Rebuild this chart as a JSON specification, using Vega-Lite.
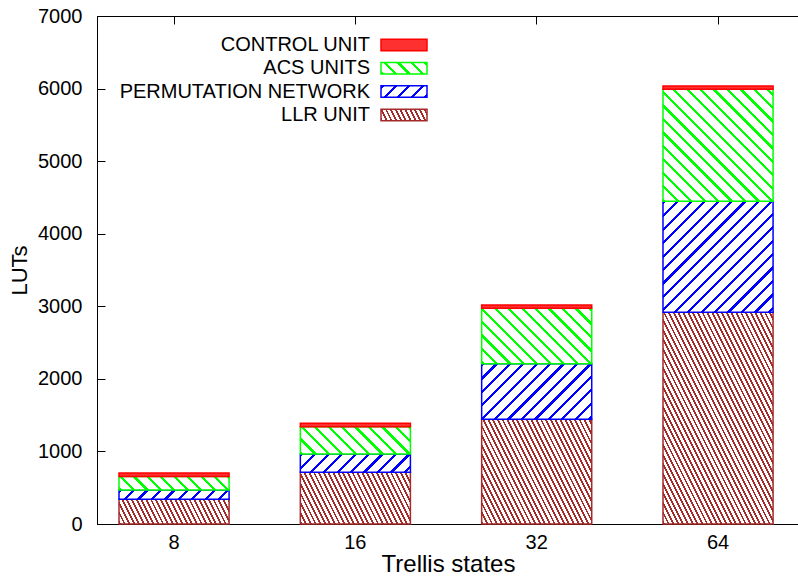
{
  "$schema": "https://vega.github.io/schema/vega-lite/v6.json",
  "autosize": "none",
  "padding": {"left": 97, "top": 16, "right": 0, "bottom": 52},
  "width": 702,
  "height": 508,
  "config": {
    "font": "Liberation Sans",
    "view": {"stroke": "#000", "strokeWidth": 1}
  },
  "params": [
    {"name": "pat", "value": {
      "LLR UNIT": {"a": 0.894, "b": -0.447, "L": 215, "stops": [
        {"offset":0,"color":"#a52a2a"},{"offset":0.008,"color":"#a52a2a"},{"offset":0.008,"color":"#fff"},{"offset":0.02,"color":"#fff"},
        {"offset":0.02,"color":"#a52a2a"},{"offset":0.028,"color":"#a52a2a"},{"offset":0.028,"color":"#fff"},{"offset":0.04,"color":"#fff"},
        {"offset":0.04,"color":"#a52a2a"},{"offset":0.048,"color":"#a52a2a"},{"offset":0.048,"color":"#fff"},{"offset":0.06,"color":"#fff"},
        {"offset":0.06,"color":"#a52a2a"},{"offset":0.068,"color":"#a52a2a"},{"offset":0.068,"color":"#fff"},{"offset":0.08,"color":"#fff"},
        {"offset":0.08,"color":"#a52a2a"},{"offset":0.088,"color":"#a52a2a"},{"offset":0.088,"color":"#fff"},{"offset":0.10,"color":"#fff"},
        {"offset":0.10,"color":"#a52a2a"},{"offset":0.108,"color":"#a52a2a"},{"offset":0.108,"color":"#fff"},{"offset":0.12,"color":"#fff"},
        {"offset":0.12,"color":"#a52a2a"},{"offset":0.128,"color":"#a52a2a"},{"offset":0.128,"color":"#fff"},{"offset":0.14,"color":"#fff"},
        {"offset":0.14,"color":"#a52a2a"},{"offset":0.148,"color":"#a52a2a"},{"offset":0.148,"color":"#fff"},{"offset":0.16,"color":"#fff"},
        {"offset":0.16,"color":"#a52a2a"},{"offset":0.168,"color":"#a52a2a"},{"offset":0.168,"color":"#fff"},{"offset":0.18,"color":"#fff"},
        {"offset":0.18,"color":"#a52a2a"},{"offset":0.188,"color":"#a52a2a"},{"offset":0.188,"color":"#fff"},{"offset":0.20,"color":"#fff"},
        {"offset":0.20,"color":"#a52a2a"},{"offset":0.208,"color":"#a52a2a"},{"offset":0.208,"color":"#fff"},{"offset":0.22,"color":"#fff"},
        {"offset":0.22,"color":"#a52a2a"},{"offset":0.228,"color":"#a52a2a"},{"offset":0.228,"color":"#fff"},{"offset":0.24,"color":"#fff"},
        {"offset":0.24,"color":"#a52a2a"},{"offset":0.248,"color":"#a52a2a"},{"offset":0.248,"color":"#fff"},{"offset":0.26,"color":"#fff"},
        {"offset":0.26,"color":"#a52a2a"},{"offset":0.268,"color":"#a52a2a"},{"offset":0.268,"color":"#fff"},{"offset":0.28,"color":"#fff"},
        {"offset":0.28,"color":"#a52a2a"},{"offset":0.288,"color":"#a52a2a"},{"offset":0.288,"color":"#fff"},{"offset":0.30,"color":"#fff"},
        {"offset":0.30,"color":"#a52a2a"},{"offset":0.308,"color":"#a52a2a"},{"offset":0.308,"color":"#fff"},{"offset":0.32,"color":"#fff"},
        {"offset":0.32,"color":"#a52a2a"},{"offset":0.328,"color":"#a52a2a"},{"offset":0.328,"color":"#fff"},{"offset":0.34,"color":"#fff"},
        {"offset":0.34,"color":"#a52a2a"},{"offset":0.348,"color":"#a52a2a"},{"offset":0.348,"color":"#fff"},{"offset":0.36,"color":"#fff"},
        {"offset":0.36,"color":"#a52a2a"},{"offset":0.368,"color":"#a52a2a"},{"offset":0.368,"color":"#fff"},{"offset":0.38,"color":"#fff"},
        {"offset":0.38,"color":"#a52a2a"},{"offset":0.388,"color":"#a52a2a"},{"offset":0.388,"color":"#fff"},{"offset":0.40,"color":"#fff"},
        {"offset":0.40,"color":"#a52a2a"},{"offset":0.408,"color":"#a52a2a"},{"offset":0.408,"color":"#fff"},{"offset":0.42,"color":"#fff"},
        {"offset":0.42,"color":"#a52a2a"},{"offset":0.428,"color":"#a52a2a"},{"offset":0.428,"color":"#fff"},{"offset":0.44,"color":"#fff"},
        {"offset":0.44,"color":"#a52a2a"},{"offset":0.448,"color":"#a52a2a"},{"offset":0.448,"color":"#fff"},{"offset":0.46,"color":"#fff"},
        {"offset":0.46,"color":"#a52a2a"},{"offset":0.468,"color":"#a52a2a"},{"offset":0.468,"color":"#fff"},{"offset":0.48,"color":"#fff"},
        {"offset":0.48,"color":"#a52a2a"},{"offset":0.488,"color":"#a52a2a"},{"offset":0.488,"color":"#fff"},{"offset":0.50,"color":"#fff"},
        {"offset":0.50,"color":"#a52a2a"},{"offset":0.508,"color":"#a52a2a"},{"offset":0.508,"color":"#fff"},{"offset":0.52,"color":"#fff"},
        {"offset":0.52,"color":"#a52a2a"},{"offset":0.528,"color":"#a52a2a"},{"offset":0.528,"color":"#fff"},{"offset":0.54,"color":"#fff"},
        {"offset":0.54,"color":"#a52a2a"},{"offset":0.548,"color":"#a52a2a"},{"offset":0.548,"color":"#fff"},{"offset":0.56,"color":"#fff"},
        {"offset":0.56,"color":"#a52a2a"},{"offset":0.568,"color":"#a52a2a"},{"offset":0.568,"color":"#fff"},{"offset":0.58,"color":"#fff"},
        {"offset":0.58,"color":"#a52a2a"},{"offset":0.588,"color":"#a52a2a"},{"offset":0.588,"color":"#fff"},{"offset":0.60,"color":"#fff"},
        {"offset":0.60,"color":"#a52a2a"},{"offset":0.608,"color":"#a52a2a"},{"offset":0.608,"color":"#fff"},{"offset":0.62,"color":"#fff"},
        {"offset":0.62,"color":"#a52a2a"},{"offset":0.628,"color":"#a52a2a"},{"offset":0.628,"color":"#fff"},{"offset":0.64,"color":"#fff"},
        {"offset":0.64,"color":"#a52a2a"},{"offset":0.648,"color":"#a52a2a"},{"offset":0.648,"color":"#fff"},{"offset":0.66,"color":"#fff"},
        {"offset":0.66,"color":"#a52a2a"},{"offset":0.668,"color":"#a52a2a"},{"offset":0.668,"color":"#fff"},{"offset":0.68,"color":"#fff"},
        {"offset":0.68,"color":"#a52a2a"},{"offset":0.688,"color":"#a52a2a"},{"offset":0.688,"color":"#fff"},{"offset":0.70,"color":"#fff"},
        {"offset":0.70,"color":"#a52a2a"},{"offset":0.708,"color":"#a52a2a"},{"offset":0.708,"color":"#fff"},{"offset":0.72,"color":"#fff"},
        {"offset":0.72,"color":"#a52a2a"},{"offset":0.728,"color":"#a52a2a"},{"offset":0.728,"color":"#fff"},{"offset":0.74,"color":"#fff"},
        {"offset":0.74,"color":"#a52a2a"},{"offset":0.748,"color":"#a52a2a"},{"offset":0.748,"color":"#fff"},{"offset":0.76,"color":"#fff"},
        {"offset":0.76,"color":"#a52a2a"},{"offset":0.768,"color":"#a52a2a"},{"offset":0.768,"color":"#fff"},{"offset":0.78,"color":"#fff"},
        {"offset":0.78,"color":"#a52a2a"},{"offset":0.788,"color":"#a52a2a"},{"offset":0.788,"color":"#fff"},{"offset":0.80,"color":"#fff"},
        {"offset":0.80,"color":"#a52a2a"},{"offset":0.808,"color":"#a52a2a"},{"offset":0.808,"color":"#fff"},{"offset":0.82,"color":"#fff"},
        {"offset":0.82,"color":"#a52a2a"},{"offset":0.828,"color":"#a52a2a"},{"offset":0.828,"color":"#fff"},{"offset":0.84,"color":"#fff"},
        {"offset":0.84,"color":"#a52a2a"},{"offset":0.848,"color":"#a52a2a"},{"offset":0.848,"color":"#fff"},{"offset":0.86,"color":"#fff"},
        {"offset":0.86,"color":"#a52a2a"},{"offset":0.868,"color":"#a52a2a"},{"offset":0.868,"color":"#fff"},{"offset":0.88,"color":"#fff"},
        {"offset":0.88,"color":"#a52a2a"},{"offset":0.888,"color":"#a52a2a"},{"offset":0.888,"color":"#fff"},{"offset":0.90,"color":"#fff"},
        {"offset":0.90,"color":"#a52a2a"},{"offset":0.908,"color":"#a52a2a"},{"offset":0.908,"color":"#fff"},{"offset":0.92,"color":"#fff"},
        {"offset":0.92,"color":"#a52a2a"},{"offset":0.928,"color":"#a52a2a"},{"offset":0.928,"color":"#fff"},{"offset":0.94,"color":"#fff"},
        {"offset":0.94,"color":"#a52a2a"},{"offset":0.948,"color":"#a52a2a"},{"offset":0.948,"color":"#fff"},{"offset":0.96,"color":"#fff"},
        {"offset":0.96,"color":"#a52a2a"},{"offset":0.968,"color":"#a52a2a"},{"offset":0.968,"color":"#fff"},{"offset":0.98,"color":"#fff"},
        {"offset":0.98,"color":"#a52a2a"},{"offset":0.988,"color":"#a52a2a"},{"offset":0.988,"color":"#fff"},{"offset":1,"color":"#fff"}
      ]},
      "PERMUTATION NETWORK": {"a": 0.707, "b": 0.707, "L": 190, "stops": [
        {"offset":0,"color":"#0000ff"},{"offset":0.012,"color":"#0000ff"},{"offset":0.012,"color":"#fff"},{"offset":0.05,"color":"#fff"},
        {"offset":0.05,"color":"#0000ff"},{"offset":0.062,"color":"#0000ff"},{"offset":0.062,"color":"#fff"},{"offset":0.10,"color":"#fff"},
        {"offset":0.10,"color":"#0000ff"},{"offset":0.112,"color":"#0000ff"},{"offset":0.112,"color":"#fff"},{"offset":0.15,"color":"#fff"},
        {"offset":0.15,"color":"#0000ff"},{"offset":0.162,"color":"#0000ff"},{"offset":0.162,"color":"#fff"},{"offset":0.20,"color":"#fff"},
        {"offset":0.20,"color":"#0000ff"},{"offset":0.212,"color":"#0000ff"},{"offset":0.212,"color":"#fff"},{"offset":0.25,"color":"#fff"},
        {"offset":0.25,"color":"#0000ff"},{"offset":0.262,"color":"#0000ff"},{"offset":0.262,"color":"#fff"},{"offset":0.30,"color":"#fff"},
        {"offset":0.30,"color":"#0000ff"},{"offset":0.312,"color":"#0000ff"},{"offset":0.312,"color":"#fff"},{"offset":0.35,"color":"#fff"},
        {"offset":0.35,"color":"#0000ff"},{"offset":0.362,"color":"#0000ff"},{"offset":0.362,"color":"#fff"},{"offset":0.40,"color":"#fff"},
        {"offset":0.40,"color":"#0000ff"},{"offset":0.412,"color":"#0000ff"},{"offset":0.412,"color":"#fff"},{"offset":0.45,"color":"#fff"},
        {"offset":0.45,"color":"#0000ff"},{"offset":0.462,"color":"#0000ff"},{"offset":0.462,"color":"#fff"},{"offset":0.50,"color":"#fff"},
        {"offset":0.50,"color":"#0000ff"},{"offset":0.512,"color":"#0000ff"},{"offset":0.512,"color":"#fff"},{"offset":0.55,"color":"#fff"},
        {"offset":0.55,"color":"#0000ff"},{"offset":0.562,"color":"#0000ff"},{"offset":0.562,"color":"#fff"},{"offset":0.60,"color":"#fff"},
        {"offset":0.60,"color":"#0000ff"},{"offset":0.612,"color":"#0000ff"},{"offset":0.612,"color":"#fff"},{"offset":0.65,"color":"#fff"},
        {"offset":0.65,"color":"#0000ff"},{"offset":0.662,"color":"#0000ff"},{"offset":0.662,"color":"#fff"},{"offset":0.70,"color":"#fff"},
        {"offset":0.70,"color":"#0000ff"},{"offset":0.712,"color":"#0000ff"},{"offset":0.712,"color":"#fff"},{"offset":0.75,"color":"#fff"},
        {"offset":0.75,"color":"#0000ff"},{"offset":0.762,"color":"#0000ff"},{"offset":0.762,"color":"#fff"},{"offset":0.80,"color":"#fff"},
        {"offset":0.80,"color":"#0000ff"},{"offset":0.812,"color":"#0000ff"},{"offset":0.812,"color":"#fff"},{"offset":0.85,"color":"#fff"},
        {"offset":0.85,"color":"#0000ff"},{"offset":0.862,"color":"#0000ff"},{"offset":0.862,"color":"#fff"},{"offset":0.90,"color":"#fff"},
        {"offset":0.90,"color":"#0000ff"},{"offset":0.912,"color":"#0000ff"},{"offset":0.912,"color":"#fff"},{"offset":0.95,"color":"#fff"},
        {"offset":0.95,"color":"#0000ff"},{"offset":0.962,"color":"#0000ff"},{"offset":0.962,"color":"#fff"},{"offset":1,"color":"#fff"}
      ]},
      "ACS UNITS": {"a": 0.707, "b": -0.707, "L": 190, "stops": [
        {"offset":0,"color":"#00ff00"},{"offset":0.012,"color":"#00ff00"},{"offset":0.012,"color":"#fff"},{"offset":0.05,"color":"#fff"},
        {"offset":0.05,"color":"#00ff00"},{"offset":0.062,"color":"#00ff00"},{"offset":0.062,"color":"#fff"},{"offset":0.10,"color":"#fff"},
        {"offset":0.10,"color":"#00ff00"},{"offset":0.112,"color":"#00ff00"},{"offset":0.112,"color":"#fff"},{"offset":0.15,"color":"#fff"},
        {"offset":0.15,"color":"#00ff00"},{"offset":0.162,"color":"#00ff00"},{"offset":0.162,"color":"#fff"},{"offset":0.20,"color":"#fff"},
        {"offset":0.20,"color":"#00ff00"},{"offset":0.212,"color":"#00ff00"},{"offset":0.212,"color":"#fff"},{"offset":0.25,"color":"#fff"},
        {"offset":0.25,"color":"#00ff00"},{"offset":0.262,"color":"#00ff00"},{"offset":0.262,"color":"#fff"},{"offset":0.30,"color":"#fff"},
        {"offset":0.30,"color":"#00ff00"},{"offset":0.312,"color":"#00ff00"},{"offset":0.312,"color":"#fff"},{"offset":0.35,"color":"#fff"},
        {"offset":0.35,"color":"#00ff00"},{"offset":0.362,"color":"#00ff00"},{"offset":0.362,"color":"#fff"},{"offset":0.40,"color":"#fff"},
        {"offset":0.40,"color":"#00ff00"},{"offset":0.412,"color":"#00ff00"},{"offset":0.412,"color":"#fff"},{"offset":0.45,"color":"#fff"},
        {"offset":0.45,"color":"#00ff00"},{"offset":0.462,"color":"#00ff00"},{"offset":0.462,"color":"#fff"},{"offset":0.50,"color":"#fff"},
        {"offset":0.50,"color":"#00ff00"},{"offset":0.512,"color":"#00ff00"},{"offset":0.512,"color":"#fff"},{"offset":0.55,"color":"#fff"},
        {"offset":0.55,"color":"#00ff00"},{"offset":0.562,"color":"#00ff00"},{"offset":0.562,"color":"#fff"},{"offset":0.60,"color":"#fff"},
        {"offset":0.60,"color":"#00ff00"},{"offset":0.612,"color":"#00ff00"},{"offset":0.612,"color":"#fff"},{"offset":0.65,"color":"#fff"},
        {"offset":0.65,"color":"#00ff00"},{"offset":0.662,"color":"#00ff00"},{"offset":0.662,"color":"#fff"},{"offset":0.70,"color":"#fff"},
        {"offset":0.70,"color":"#00ff00"},{"offset":0.712,"color":"#00ff00"},{"offset":0.712,"color":"#fff"},{"offset":0.75,"color":"#fff"},
        {"offset":0.75,"color":"#00ff00"},{"offset":0.762,"color":"#00ff00"},{"offset":0.762,"color":"#fff"},{"offset":0.80,"color":"#fff"},
        {"offset":0.80,"color":"#00ff00"},{"offset":0.812,"color":"#00ff00"},{"offset":0.812,"color":"#fff"},{"offset":0.85,"color":"#fff"},
        {"offset":0.85,"color":"#00ff00"},{"offset":0.862,"color":"#00ff00"},{"offset":0.862,"color":"#fff"},{"offset":0.90,"color":"#fff"},
        {"offset":0.90,"color":"#00ff00"},{"offset":0.912,"color":"#00ff00"},{"offset":0.912,"color":"#fff"},{"offset":0.95,"color":"#fff"},
        {"offset":0.95,"color":"#00ff00"},{"offset":0.962,"color":"#00ff00"},{"offset":0.962,"color":"#fff"},{"offset":1,"color":"#fff"}
      ]},
      "CONTROL UNIT": {"a": 1, "b": 0, "L": 1, "stops": [
        {"offset":0,"color":"#ff3030"},{"offset":1,"color":"#ff3030"}
      ]}
    }}
  ],
  "data": {"values": [
    {"states": 8, "part": "LLR UNIT", "LUTs": 342, "k": 1},
    {"states": 8, "part": "PERMUTATION NETWORK", "LUTs": 126, "k": 2},
    {"states": 8, "part": "ACS UNITS", "LUTs": 188, "k": 3},
    {"states": 8, "part": "CONTROL UNIT", "LUTs": 46, "k": 4},
    {"states": 16, "part": "LLR UNIT", "LUTs": 712, "k": 1},
    {"states": 16, "part": "PERMUTATION NETWORK", "LUTs": 253, "k": 2},
    {"states": 16, "part": "ACS UNITS", "LUTs": 376, "k": 3},
    {"states": 16, "part": "CONTROL UNIT", "LUTs": 47, "k": 4},
    {"states": 32, "part": "LLR UNIT", "LUTs": 1443, "k": 1},
    {"states": 32, "part": "PERMUTATION NETWORK", "LUTs": 766, "k": 2},
    {"states": 32, "part": "ACS UNITS", "LUTs": 763, "k": 3},
    {"states": 32, "part": "CONTROL UNIT", "LUTs": 46, "k": 4},
    {"states": 64, "part": "LLR UNIT", "LUTs": 2917, "k": 1},
    {"states": 64, "part": "PERMUTATION NETWORK", "LUTs": 1530, "k": 2},
    {"states": 64, "part": "ACS UNITS", "LUTs": 1543, "k": 3},
    {"states": 64, "part": "CONTROL UNIT", "LUTs": 45, "k": 4}
  ]},
  "transform": [
    {"stack": "LUTs", "groupby": ["states"], "sort": [{"field": "k", "order": "ascending"}], "as": ["y0", "y1"]}
  ],
  "mark": {
    "type": "bar",
    "strokeWidth": 1.5,
    "fill": {"expr": "{gradient: 'linear', x1: 0, y1: (pat[datum.part || datum.value].b < 0 ? 1 : 0), x2: pat[datum.part || datum.value].a * (datum.part ? bandwidth('x') : 46) * pat[datum.part || datum.value].L / (pow(pat[datum.part || datum.value].a * (datum.part ? bandwidth('x') : 46), 2) + pow(pat[datum.part || datum.value].b * (datum.part ? scale('y', datum.y0) - scale('y', datum.y1) : 11.5), 2)), y2: (pat[datum.part || datum.value].b < 0 ? 1 : 0) + pat[datum.part || datum.value].b * (datum.part ? scale('y', datum.y0) - scale('y', datum.y1) : 11.5) * pat[datum.part || datum.value].L / (pow(pat[datum.part || datum.value].a * (datum.part ? bandwidth('x') : 46), 2) + pow(pat[datum.part || datum.value].b * (datum.part ? scale('y', datum.y0) - scale('y', datum.y1) : 11.5), 2)), stops: pat[datum.part || datum.value].stops}"}
  },
  "encoding": {
    "x": {
      "field": "states", "type": "ordinal", "sort": "ascending",
      "scale": {"paddingInner": 0.393, "paddingOuter": 0.1322, "align": 0.459},
      "axis": {
        "orient": "bottom",
        "title": "Trellis states", "titleFontSize": 24, "titleFontWeight": "normal", "titleColor": "#000", "titlePadding": 0,
        "labelAngle": 0, "labelFontSize": 20, "labelColor": "#000", "labelPadding": 8,
        "ticks": false, "domainColor": "#000",
        "grid": true, "gridColor": "#000", "gridOpacity": 1, "gridWidth": 1, "gridDash": [8, 492, 8, 0]
      }
    },
    "y": {
      "field": "y1", "type": "quantitative",
      "scale": {"domain": [0, 7000], "nice": false},
      "axis": {
        "title": "LUTs", "titleFontSize": 22, "titleFontWeight": "normal", "titleColor": "#000", "titlePadding": 6,
        "values": [0, 1000, 2000, 3000, 4000, 5000, 6000, 7000], "format": "d",
        "labelFontSize": 20, "labelColor": "#000", "labelPadding": 15,
        "ticks": false, "domainColor": "#000",
        "grid": true, "gridColor": "#000", "gridOpacity": 1, "gridWidth": 1, "gridDash": [8, 3000]
      }
    },
    "y2": {"field": "y0"},
    "stroke": {
      "field": "part", "type": "nominal",
      "scale": {
        "domain": ["CONTROL UNIT", "ACS UNITS", "PERMUTATION NETWORK", "LLR UNIT"],
        "range": ["#ff0000", "#00ff00", "#0000ff", "#a52a2a"]
      },
      "legend": {
        "orient": "none", "legendX": 297, "legendY": 19,
        "title": null,
        "symbolType": "M-4.6,-1.15H4.6V1.15H-4.6Z",
        "symbolSize": 100,
        "symbolStrokeWidth": 1.5,
        "labelFontSize": 20, "labelColor": "#000", "labelAlign": "right", "labelOffset": -44, "labelLimit": 400,
        "rowPadding": 3.3
      }
    }
  }
}
